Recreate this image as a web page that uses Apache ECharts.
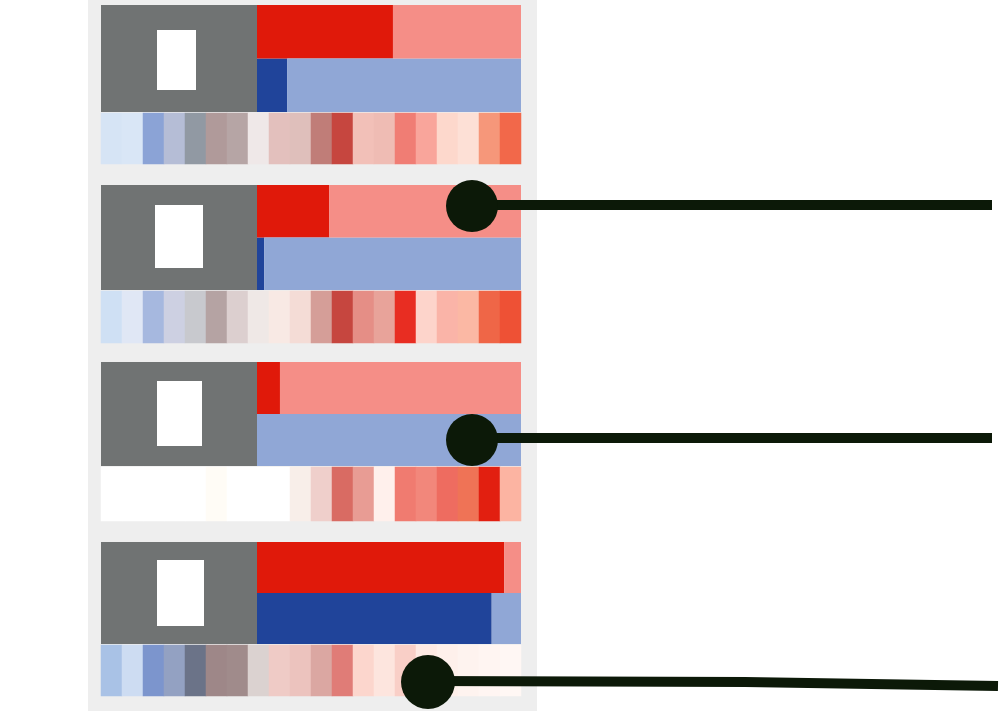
<!DOCTYPE html>
<html><head><meta charset="utf-8">
<script src="https://cdn.jsdelivr.net/npm/echarts@6/dist/echarts.min.js"></script>
<style>html,body{margin:0;padding:0;background:#ffffff}#c{width:1006px;height:720px}</style>
</head><body><div id="c"></div><script>
// ---- data ----
const groups = ['G1', 'G2', 'G3', 'G4'];
const barRows = ['blue', 'red'];
// share (%) of each bar
const redDark   = [51.5, 27.3, 8.7, 93.6];
const redLight  = [48.5, 72.7, 91.3, 6.4];
const blueDark  = [11.4, 2.7, 0, 88.9];
const blueLight = [88.6, 97.3, 100, 11.1];
const cellIndex = ['1','2','3','4','5','6','7','8','9','10','11','12','13','14','15','16','17','18','19','20'];
// cell colours of each heat strip (the strip encodes its values as colour)
const cellsG1 = ['#d6e4f5','#d9e6f6','#8ba3d6','#b5bdd6','#9199a3','#b09a9a','#b6a5a5','#efe8e8','#e3c0bd','#dfbfbb',
                 '#c07d78','#c6463f','#f2c0b8','#efbcb4','#f07d74','#f9a59b','#fdd8cc','#fde0d6','#f6977a','#f2684a'];
const cellsG2 = ['#cfe0f4','#e0e7f5','#a6b8df','#cdd0e2','#c8c9ce','#b5a3a3','#dccfcf','#efe8e6','#f8e9e4','#f4dcd6',
                 '#d59e98','#c6463f','#e58e86','#e8a39a','#e82d22','#fdd4cb','#fab4a8','#fbb8a4','#ef6647','#ee5135'];
const cellsG3 = ['#ffffff','#ffffff','#ffffff','#ffffff','#ffffff','#fffcf6','#ffffff','#ffffff','#ffffff','#f8eee9',
                 '#efcfcb','#d96b63','#e89c94','#fff0ec','#f07b70','#f2877b','#ee6c60','#ef7356','#e21f10','#fcb4a2'];
const cellsG4 = ['#a9c2e6','#cddcf2','#7c95cd','#93a1c2','#6b7388','#9e8788','#a08b8b','#dbd2d0','#efcbc6','#ecc3be',
                 '#dba7a2','#e07c77','#fcd6cd','#fde5de','#f9cfc7','#feeae4','#fef0eb','#fef3ef','#fff5f2','#fff7f4'];
const cellSets = [cellsG1, cellsG2, cellsG3, cellsG4];

// ---- layout / style ----
const C = {
  panel: '#eeeeee', block: '#707373', redD: '#e0190a', redL: '#f58e87',
  blueD: '#20449a', blueL: '#90a7d6', ink: '#0c1908'
};
const blockTop = [5, 185, 362, 542];
const blockH   = [107, 105, 104, 102];
const cellTop  = [113, 291, 467, 645];
const cellH    = [51, 52, 54, 51];
const iconBox  = [[157, 30, 39, 60], [155, 205, 48, 63], [157, 381, 45, 65], [157, 560, 47, 66]];

const grid = [], xAxis = [], yAxis = [], series = [];
groups.forEach((g, i) => {
  // bar grid
  grid.push({ left: 257, width: 264, top: blockTop[i], height: blockH[i] });
  xAxis.push({ type: 'value', gridIndex: 2 * i, min: 0, max: 100, show: false });
  yAxis.push({ type: 'category', gridIndex: 2 * i, data: barRows, show: false });
  series.push({
    type: 'bar', name: g + ' dark', xAxisIndex: 2 * i, yAxisIndex: 2 * i, stack: 's' + i,
    barCategoryGap: '0%', silent: true,
    data: [{ value: blueDark[i], itemStyle: { color: C.blueD } }, { value: redDark[i], itemStyle: { color: C.redD } }]
  });
  series.push({
    type: 'bar', name: g + ' light', xAxisIndex: 2 * i, yAxisIndex: 2 * i, stack: 's' + i,
    barCategoryGap: '0%', silent: true,
    data: [{ value: blueLight[i], itemStyle: { color: C.blueL } }, { value: redLight[i], itemStyle: { color: C.redL } }]
  });
  // heat strip grid
  grid.push({ left: 101, width: 420, top: cellTop[i], height: cellH[i] });
  xAxis.push({ type: 'category', gridIndex: 2 * i + 1, data: cellIndex, show: false });
  yAxis.push({ type: 'category', gridIndex: 2 * i + 1, data: ['strip'], show: false });
  series.push({
    type: 'heatmap', name: g + ' strip', xAxisIndex: 2 * i + 1, yAxisIndex: 2 * i + 1, silent: true,
    data: cellSets[i].map((col, k) => ({ value: [k, 0, 1], itemStyle: { color: col } }))
  });
});

const graphic = [
  { type: 'rect', z: 0, shape: { x: 88, y: 0, width: 449, height: 711 }, style: { fill: C.panel } }
];
groups.forEach((g, i) => {
  graphic.push({ type: 'rect', z: 1, shape: { x: 101, y: blockTop[i], width: 156, height: blockH[i] }, style: { fill: C.block } });
  const b = iconBox[i];
  graphic.push({ type: 'rect', z: 3, shape: { x: b[0], y: b[1], width: b[2], height: b[3] }, style: { fill: '#ffffff' } });
});
// callout leaders
const callouts = [
  { c: [472, 206], r: 26, pts: [[472, 205], [992, 205]] },
  { c: [472, 440], r: 26, pts: [[472, 438], [992, 438]] },
  { c: [428, 682], r: 27, pts: [[428, 681], [745, 682], [998, 686]] }
];
callouts.forEach(o => {
  graphic.push({ type: 'polyline', z: 100, shape: { points: o.pts }, style: { stroke: C.ink, lineWidth: 10, fill: null } });
  graphic.push({ type: 'circle', z: 101, shape: { cx: o.c[0], cy: o.c[1], r: o.r }, style: { fill: C.ink } });
});

const chart = echarts.init(document.getElementById('c'), null, { renderer: 'canvas' });
chart.setOption({
  animation: false,
  backgroundColor: '#ffffff',
  grid, xAxis, yAxis, series, graphic
});
</script></body></html>
